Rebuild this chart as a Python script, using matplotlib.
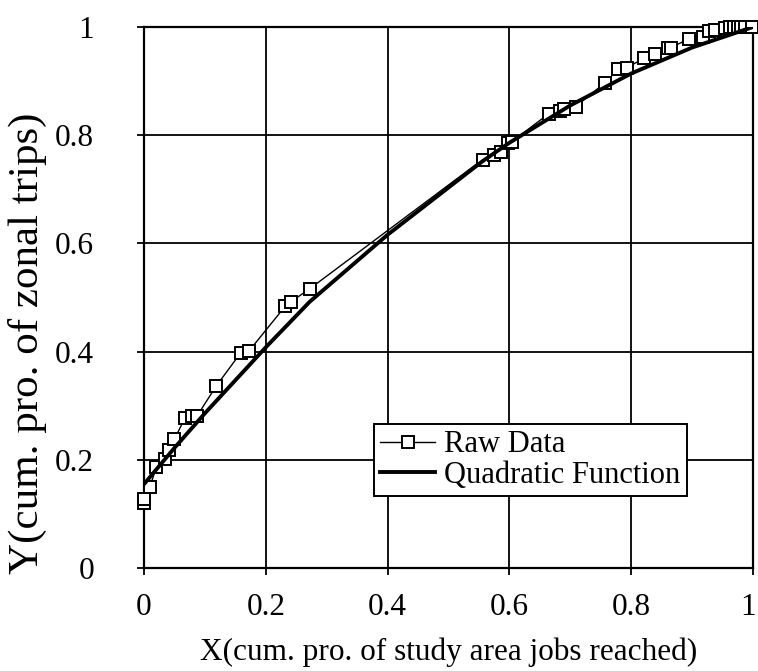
import numpy as np
import matplotlib.pyplot as plt
import matplotlib.transforms as mtransforms

plt.rcParams['font.family'] = ['Liberation Serif', 'DejaVu Serif']

# raw data
raw_x = [0.000, 0.000, 0.010, 0.020, 0.034, 0.041, 0.050, 0.067, 0.078, 0.087,
         0.119, 0.159, 0.173, 0.232, 0.241, 0.272, 0.556, 0.574, 0.587, 0.598,
         0.604, 0.665, 0.683, 0.690, 0.709, 0.757, 0.779, 0.793, 0.821, 0.839,
         0.860, 0.865, 0.895, 0.918, 0.928, 0.938, 0.954, 0.962, 0.969, 0.975,
         0.981, 0.987, 0.998]
raw_y = [0.120, 0.127, 0.150, 0.187, 0.202, 0.218, 0.238, 0.277, 0.281, 0.281,
         0.337, 0.398, 0.402, 0.484, 0.492, 0.516, 0.755, 0.763, 0.768, 0.785,
         0.788, 0.840, 0.845, 0.848, 0.853, 0.897, 0.922, 0.925, 0.942, 0.950,
         0.961, 0.962, 0.978, 0.982, 0.993, 0.994, 0.999, 1.000, 1.000, 1.000,
         1.000, 1.000, 1.000]

# fitted curve, read at a few x positions
quad_x = [0.0, 0.05, 0.1, 0.2, 0.272, 0.4, 0.556, 0.6, 0.7, 0.8, 0.9, 1.0]
quad_y = [0.155, 0.222, 0.286, 0.408, 0.492, 0.616, 0.752, 0.786, 0.855, 0.914, 0.962, 1.0]

ticks = [0, 0.2, 0.4, 0.6, 0.8, 1]
tick_labels = ['0', '0.2', '0.4', '0.6', '0.8', '1']

fig = plt.figure(figsize=(7.58, 6.71), dpi=100)
ax = fig.add_axes([0.190, 0.1535, 0.8034, 0.8063])

ax.plot(raw_x, raw_y, color='black', lw=1.0, marker='s', ms=8.5,
        mfc='white', mec='black', mew=1.4, clip_on=False, zorder=3,
        label='Raw Data')
ax.plot(quad_x, quad_y, color='black', lw=2.8, zorder=4,
        label='Quadratic Function')

ax.set_xlim(0, 1)
ax.set_ylim(0, 1)
ax.set_xticks(ticks)
ax.set_xticklabels(tick_labels)
ax.set_yticks(ticks)
ax.set_yticklabels(tick_labels)
ax.grid(True, color='black', lw=1.3)
ax.set_axisbelow(True)
for s in ax.spines.values():
    s.set_linewidth(1.6)
ax.tick_params(direction='out', length=5, width=1.3, labelsize=22.5)
ax.tick_params(axis='y', pad=31)
ax.tick_params(axis='x', pad=13)

# keep the last x tick label inside the figure
last = ax.get_xticklabels()[-1]
last.set_transform(last.get_transform() +
                   mtransforms.ScaledTranslation(-5 / 100, 0, fig.dpi_scale_trans))

ax.set_xlabel('X(cum. pro. of study area jobs reached)', fontsize=22.5, labelpad=11)
ax.set_ylabel('Y(cum. pro. of zonal trips)', fontsize=31)
ax.yaxis.set_label_coords(-0.16, 0.415)

leg = ax.legend(loc='lower left', bbox_to_anchor=(0.378, 0.133), fontsize=22,
                frameon=True, fancybox=False, borderaxespad=0, borderpad=0.2,
                handlelength=1.8, handletextpad=0.3, labelspacing=0.05)
leg.get_frame().set_edgecolor('black')
leg.get_frame().set_linewidth(1.4)
leg.get_frame().set_alpha(1)

plt.savefig('out.png', dpi=100)
